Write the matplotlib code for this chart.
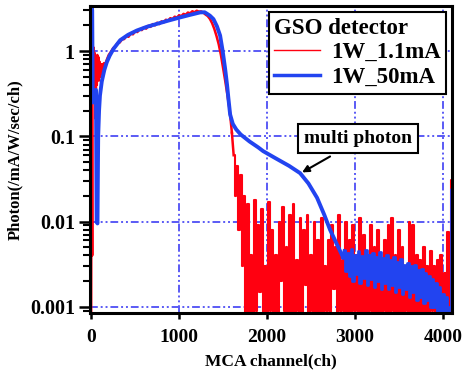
import numpy as np
import matplotlib
matplotlib.use("Agg")
import matplotlib.pyplot as plt
from matplotlib.ticker import LogLocator, NullFormatter, FixedLocator

plt.rcParams["font.family"] = ["Liberation Serif", "DejaVu Serif"]
plt.rcParams["font.weight"] = "bold"

# ---- data ----
# 1W_50mA : smooth part
blue_ch = [0, 6, 12, 18, 30, 45, 55, 62, 72, 80, 90, 100, 121, 150, 178, 210, 254,
           330, 420, 519, 630, 746, 880, 1011, 1120, 1239, 1290, 1314, 1350, 1390,
           1430, 1466, 1495, 1523, 1545, 1560, 1580, 1610, 1650, 1700, 1800, 1900,
           1955, 2100, 2250, 2375, 2470, 2568, 2650, 2716, 2790, 2864]
blue_val = [0.25, 3.2, 3.0, 0.28, 0.25, 0.3, 0.35, 0.01, 0.0095, 0.1, 0.2, 0.3, 0.44,
            0.6, 0.74, 0.88, 1.06, 1.34, 1.55, 1.74, 1.92, 2.08, 2.28, 2.48, 2.65,
            2.84, 2.85, 2.75, 2.6, 2.37, 1.95, 1.52, 1.0, 0.62, 0.4, 0.28, 0.18, 0.14,
            0.12, 0.105, 0.087, 0.074, 0.067, 0.055, 0.045, 0.037, 0.028, 0.019,
            0.012, 0.008, 0.0055, 0.0038]
# 1W_50mA : noisy tail, every 20 ch from 2880
blue_tail_ch = list(range(2880, 4100, 20)) + [4090, 4098]
blue_tail_val = [0.0045, 0.0026, 0.0043, 0.0023, 0.0048, 0.002, 0.0041, 0.0024, 0.0045,
                 0.0019, 0.0039, 0.0022, 0.0046, 0.0018, 0.004, 0.0021, 0.0043, 0.0017,
                 0.0038, 0.002, 0.0044, 0.0016, 0.0037, 0.0019, 0.0041, 0.0016, 0.0035,
                 0.0018, 0.0038, 0.0015, 0.0034, 0.0017, 0.0036, 0.0014, 0.0031, 0.0016,
                 0.0033, 0.0013, 0.003, 0.0015, 0.0031, 0.0012, 0.0027, 0.0013, 0.0028,
                 0.0011, 0.0025, 0.0012, 0.0023, 0.001, 0.0021, 0.001, 0.0019, 0.0009,
                 0.0017, 0.0008, 0.0014, 0.0008, 0.0013, 0.0007, 0.001, 0.024, 0.024]

# 1W_1.1mA : start
red_head_ch = [0, 5, 12, 16, 22, 28, 34, 40, 46, 52, 58, 64, 70, 76, 82, 88, 95, 102,
               110, 118, 126, 135, 145, 160, 180]
red_head_val = [0.0005, 1.4, 0.004, 1.3, 0.5, 1.1, 0.45, 0.95, 0.35, 0.16, 0.8, 0.4,
                0.9, 0.5, 0.85, 0.45, 0.75, 0.5, 0.7, 0.55, 0.7, 0.6, 0.72, 0.7, 0.8]
# 1W_1.1mA : body, every 25 ch from 200 to 1600
red_body_ch = list(range(200, 1625, 25))
red_body_val = [0.9, 0.98, 1.08, 1.14, 1.24, 1.26, 1.37, 1.38, 1.5, 1.47, 1.6, 1.57,
                1.7, 1.67, 1.8, 1.76, 1.9, 1.83, 1.98, 1.92, 2.07, 2.0, 2.15, 2.07,
                2.23, 2.17, 2.33, 2.27, 2.43, 2.37, 2.53, 2.47, 2.63, 2.57, 2.73, 2.67,
                2.83, 2.77, 2.93, 2.85, 2.97, 2.9, 2.92, 2.82, 2.68, 2.57, 2.38, 2.12,
                1.82, 1.5, 1.2, 0.9, 0.63, 0.44, 0.3, 0.2, 0.11]
# 1W_1.1mA : noisy tail, every 20 ch from 1620
red_tail_ch = list(range(1620, 4100, 20)) + [4090, 4098]
red_tail_val = [0.06, 0.02, 0.045, 0.008, 0.035, 0.003, 0.02, 0.0008, 0.016, 0.0007,
                0.004, 0.0006, 0.018, 0.0009, 0.009, 0.0015, 0.014, 0.0008, 0.003, 0.0005,
                0.017, 0.0009, 0.008, 0.0006, 0.004, 0.0008, 0.01, 0.002, 0.015, 0.0009,
                0.005, 0.0008, 0.012, 0.0007, 0.016, 0.0005, 0.0035, 0.0009, 0.011, 0.0007,
                0.008, 0.0018, 0.012, 0.0006, 0.004, 0.0009, 0.01, 0.0005, 0.006, 0.0008,
                0.011, 0.0007, 0.003, 0.0009, 0.006, 0.0005, 0.009, 0.0016, 0.005, 0.0008,
                0.012, 0.0009, 0.0035, 0.0006, 0.01, 0.0008, 0.006, 0.0007, 0.009, 0.0009,
                0.004, 0.0006, 0.011, 0.0008, 0.007, 0.0005, 0.0035, 0.0009, 0.009, 0.0008,
                0.005, 0.0007, 0.008, 0.0006, 0.003, 0.0009, 0.006, 0.0007, 0.009, 0.0008,
                0.011, 0.0009, 0.004, 0.0006, 0.008, 0.0008, 0.005, 0.0008, 0.003, 0.0009,
                0.01, 0.0007, 0.009, 0.0008, 0.004, 0.0006, 0.0035, 0.0008, 0.005, 0.0007,
                0.003, 0.0006, 0.0045, 0.0009, 0.003, 0.0005, 0.0035, 0.0008, 0.004,
                0.0006, 0.0025, 0.0007, 0.0075, 0.0008, 0.031, 0.031]

red_ch = red_head_ch + red_body_ch
red_val = red_head_val + red_body_val

# ---- plot ----
fig = plt.figure(figsize=(4.62, 3.76), dpi=100)
ax = fig.add_axes([0.195, 0.168, 0.783, 0.815])

RED = "#ff0010"
BLUE = "#2244f0"
ax.plot(red_ch, red_val, color=RED, lw=1.8, label="1W_1.1mA")
ax.plot(red_tail_ch, red_tail_val, color=RED, lw=1.5, drawstyle="steps-mid")
ax.plot([red_ch[-1], red_tail_ch[0]], [red_val[-1], red_tail_val[0]], color=RED, lw=1.8)
ax.plot(blue_ch, blue_val, color=BLUE, lw=2.8, label="1W_50mA")
ax.plot(blue_tail_ch, blue_tail_val, color=BLUE, lw=2.0, drawstyle="steps-mid")
ax.plot([blue_ch[-1], blue_tail_ch[0]], [blue_val[-1], blue_tail_val[0]], color=BLUE, lw=2.8)

ax.set_yscale("log")
ax.set_xlim(-12, 4100)
ax.set_ylim(0.00085, 3.34)
ax.set_xticks([0, 1000, 2000, 3000, 4000])
ax.yaxis.set_major_locator(FixedLocator([0.001, 0.01, 0.1, 1]))
ax.set_yticklabels(["0.001", "0.01", "0.1", "1"])
ax.yaxis.set_minor_locator(LogLocator(base=10, subs=np.arange(2, 10)))
ax.yaxis.set_minor_formatter(NullFormatter())

ax.grid(True, which="major", color="#5a5af5", lw=1.4,
        linestyle=(0, (4, 1.5, 1, 1.5, 1, 1.5)))

for s in ax.spines.values():
    s.set_linewidth(2.2)
ax.tick_params(axis="y", which="major", length=8, width=1.8, direction="out",
               labelsize=14.5, pad=3)
ax.tick_params(axis="y", which="minor", length=5, width=1.5, direction="out")
ax.tick_params(axis="x", which="major", length=4, width=1.8, direction="out",
               labelsize=14, pad=8)

ax.set_xlabel("MCA channel(ch)", fontsize=12.5, fontweight="bold", labelpad=5)
ax.set_ylabel("Photon(/mA/W/sec/ch)", fontsize=12, fontweight="bold", labelpad=5)

leg = ax.legend(loc="upper right", title="GSO detector", fontsize=16.5,
                title_fontproperties={"size": 16.5, "weight": "bold"},
                frameon=True, fancybox=False, handlelength=2.0, handletextpad=0.45,
                borderaxespad=0.25, labelspacing=0.15, borderpad=0.25)
leg._legend_box.align = "left"
leg.get_frame().set_edgecolor("black")
leg.get_frame().set_linewidth(1.5)
leg.get_frame().set_alpha(1)
leg.get_lines()[0].set_linewidth(1.0)
leg.get_lines()[1].set_linewidth(2.5)

# multi photon label and arrow
ax.text(3034, 0.095, "multi photon", fontsize=14, fontweight="bold",
        ha="center", va="center",
        bbox=dict(boxstyle="square,pad=0.3", fc="white", ec="black", lw=1.5))
ax.annotate("", xy=(2398, 0.0377), xytext=(2716, 0.058),
            arrowprops=dict(arrowstyle="-|>", color="black", lw=1.5,
                            mutation_scale=10, shrinkA=0, shrinkB=0))

fig.savefig("out.png", dpi=100)
